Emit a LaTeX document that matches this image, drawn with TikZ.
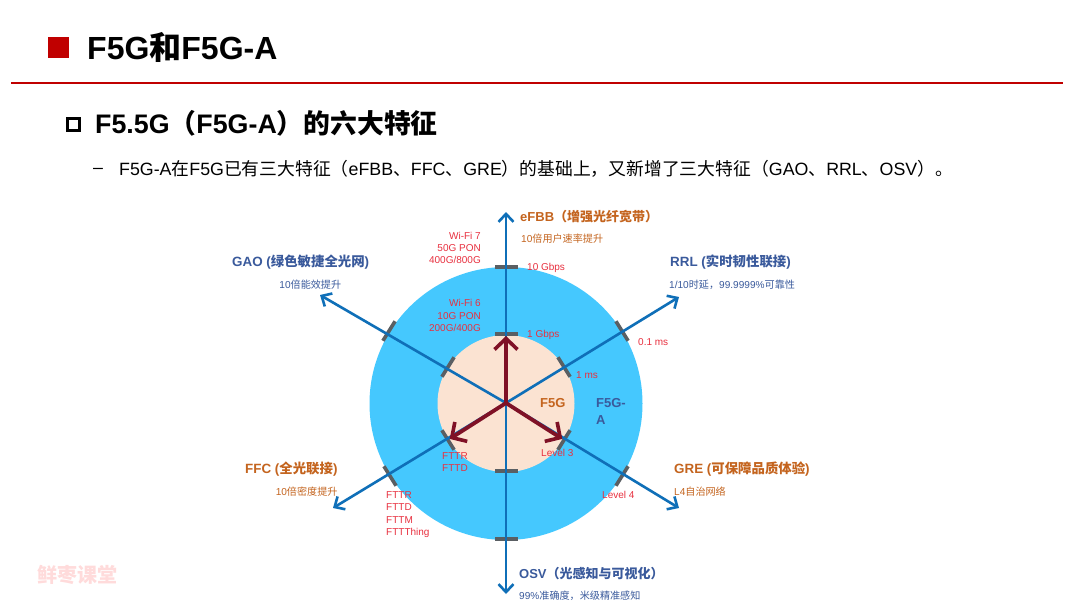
\documentclass[tikz,border=0pt]{standalone}
\usepackage{fontspec}
\setmainfont{Liberation Sans}
\newfontfamily\cjk{Noto Sans CJK SC}
\newcommand{\zh}[1]{{\cjk #1}}
\usetikzlibrary{arrows.meta, positioning}
\definecolor{slidered}{HTML}{C00000}
\definecolor{ringblue}{HTML}{45C8FE}
\definecolor{corepeach}{HTML}{FBE3D2}
\definecolor{axisblue}{HTML}{0F6FB8}
\definecolor{darkarrow}{HTML}{7F1126}
\definecolor{tickgray}{HTML}{5A5F63}
\definecolor{featorange}{HTML}{C4641E}
\definecolor{featblue}{HTML}{3A5A9C}
\definecolor{markred}{HTML}{E8303F}
\tikzset{
    x=1pt, y=-1pt, % one unit is one pixel of the slide, counted from the top
    axis/.style={draw=axisblue, line width=2.6pt, -{Straight Barb[length=8pt, width=15pt, line width=2.6pt]}},
    core/.style={draw=darkarrow, line width=3.8pt, shorten >=2pt, -{Straight Barb[length=11pt, width=23pt, line width=3.6pt]}},
    bar/.style={fill=tickgray, inner sep=0pt, minimum width=23pt, minimum height=3.6pt}, % the short bar on an axis
    feature/.style={font=\fontsize{13.4}{16}\selectfont\bfseries, inner sep=0pt},
    note/.style={font=\fontsize{10.1}{12}\selectfont, inner sep=0pt},
    value/.style={font=\fontsize{10}{12.3}\selectfont, text=markred, inner sep=0pt},
}
\begin{document}
\begin{tikzpicture}
    \useasboundingbox[fill=white] (0,0) rectangle (1080,608);
    % heading
    \node[fill=slidered, minimum size=21pt, inner sep=0pt] (bullet) at (58.5,47.5) {};
    \node[anchor=west, inner sep=0pt, font=\fontsize{32}{36}\selectfont\bfseries] (title) at (87,47) {F5G\zh{和}F5G-A};
    \coordinate (ruleL) at (11,83);
    \coordinate (ruleR) at (1063,83);
    \draw[slidered, line width=1.6pt] (ruleL) -- (ruleR);
    \node[draw=black, line width=2.8pt, minimum size=12.5pt, inner sep=0pt] (box) at (73.5,124.5) {};
    \node[anchor=west, inner sep=0pt, font=\fontsize{26.8}{30}\selectfont\bfseries] (head) at (95,123) {F5.5G\zh{（}F5G-A\zh{）的六大特征}};
    \node[anchor=west, inner sep=0pt, font=\fontsize{17.8}{20}\selectfont] (dash) at (93,171) {--};
    \node[anchor=west, inner sep=0pt, font=\fontsize{17.8}{20}\selectfont] (line) at (119,169) {F5G-A\zh{在}F5G\zh{已有三大特征（}eFBB\zh{、}FFC\zh{、}GRE\zh{）的基础上，又新增了三大特征（}GAO\zh{、}RRL\zh{、}OSV\zh{）。}};
    \node[anchor=west, inner sep=0pt, text=red!14, font=\fontsize{20}{22}\selectfont\bfseries] (stamp) at (37,575) {\zh{鲜枣课堂}};
    % rings
    \node[circle, fill=ringblue, minimum size=273pt, inner sep=0pt] (outer) at (506,403.5) {};
    \node[circle, fill=corepeach, minimum size=137pt, inner sep=0pt] (inner) at (506,403.5) {};
    % bars
    \node[bar] (m1) at (506,267) {};
    \node[bar] (m2) at (506,334) {};
    \node[bar] (m3) at (506,471) {};
    \node[bar] (m4) at (506,539) {};
    \node[bar, rotate=122] (m5) at (622,331) {};
    \node[bar, rotate=122] (m6) at (564,367) {};
    \node[bar, rotate=122] (m7) at (448,440) {};
    \node[bar, rotate=122] (m8) at (390,476) {};
    \node[bar, rotate=58] (m9) at (389,331) {};
    \node[bar, rotate=58] (m10) at (448,367) {};
    \node[bar, rotate=58] (m11) at (564,440) {};
    \node[bar, rotate=58] (m12) at (622,476) {};
    % axes
    \coordinate (o) at (506,403);
    \coordinate (top) at (506,212);
    \coordinate (bottom) at (506,594);
    \coordinate (gao) at (320,295);
    \coordinate (rrl) at (679,297);
    \coordinate (ffc) at (333,508);
    \coordinate (gre) at (679,508);
    \draw[axis] (o) -- (top);
    \draw[axis] (o) -- (bottom);
    \draw[axis] (o) -- (gao);
    \draw[axis] (o) -- (rrl);
    \draw[axis] (o) -- (ffc);
    \draw[axis] (o) -- (gre);
    \draw[core] (o) -- (m2.center);
    \draw[core] (o) -- (m7.center);
    \draw[core] (o) -- (m11.center);
    % feature names
    \node[feature, text=featorange, anchor=west, font=\fontsize{13}{16}\selectfont\bfseries] (efbb) at (520,217) {eFBB\zh{（增强光纤宽带）}};
    \node[note, text=featorange, below=10pt of efbb.south west, anchor=north west, xshift=1pt] (efbbnote) {10\zh{倍用户速率提升}};
    \node[feature, text=featblue, anchor=west] (gaoname) at (232,262.5) {GAO (\zh{绿色敏捷全光网})};
    \node[note, text=featblue, below=10pt of gaoname.south east, anchor=north east, xshift=-28pt] (gaonote) {10\zh{倍能效提升}};
    \node[feature, text=featblue, anchor=west] (rrlname) at (670,262.5) {RRL (\zh{实时韧性联接})};
    \node[note, text=featblue, below=10pt of rrlname.south west, anchor=north west, xshift=-1pt] (rrlnote) {1/10\zh{时延，}99.9999\%\zh{可靠性}};
    \node[feature, text=featorange, anchor=west] (ffcname) at (245,469.5) {FFC (\zh{全光联接})};
    \node[note, text=featorange, below=10pt of ffcname.south east, anchor=north east] (ffcnote) {10\zh{倍密度提升}};
    \node[feature, text=featorange, anchor=west] (grename) at (674,469.5) {GRE (\zh{可保障品质体验})};
    \node[note, text=featorange, below=10pt of grename.south west, anchor=north west] (grenote) {L4\zh{自治网络}};
    \node[feature, text=featblue, anchor=west, font=\fontsize{13}{16}\selectfont\bfseries] (osvname) at (519,574) {OSV\zh{（光感知与可视化）}};
    \node[note, text=featblue, below=10pt of osvname.south west, anchor=north west] (osvnote) {99\%\zh{准确度，米级精准感知}};
    % values on the axes
    \node[value, align=right, anchor=east] (v1) at (481,248) {Wi-Fi 7\\50G PON\\400G/800G};
    \node[value, align=right, anchor=east] (v2) at (481,315.5) {Wi-Fi 6\\10G PON\\200G/400G};
    \node[value, anchor=west] (v3) at (527,268) {10 Gbps};
    \node[value, anchor=west] (v4) at (527,335) {1 Gbps};
    \node[value, anchor=west] (v5) at (638,342) {0.1 ms};
    \node[value, anchor=west] (v6) at (576,375) {1 ms};
    \node[value, anchor=west] (v7) at (541,453) {Level 3};
    \node[value, align=left, anchor=west] (v8) at (442,462) {FTTR\\FTTD};
    \node[value, anchor=west] (v9) at (602,495) {Level 4};
    \node[value, align=left, anchor=west] (v10) at (386,514.5) {FTTR\\FTTD\\FTTM\\FTTThing};
    \node[anchor=west, inner sep=0pt, text=featorange, font=\fontsize{13}{15}\selectfont\bfseries] (f5g) at (540,403) {F5G};
    \node[anchor=west, inner sep=0pt, align=left, text=featblue, font=\fontsize{13}{17}\selectfont\bfseries] (f5ga) at (596,411) {F5G-\\A};
\end{tikzpicture}
\end{document}
